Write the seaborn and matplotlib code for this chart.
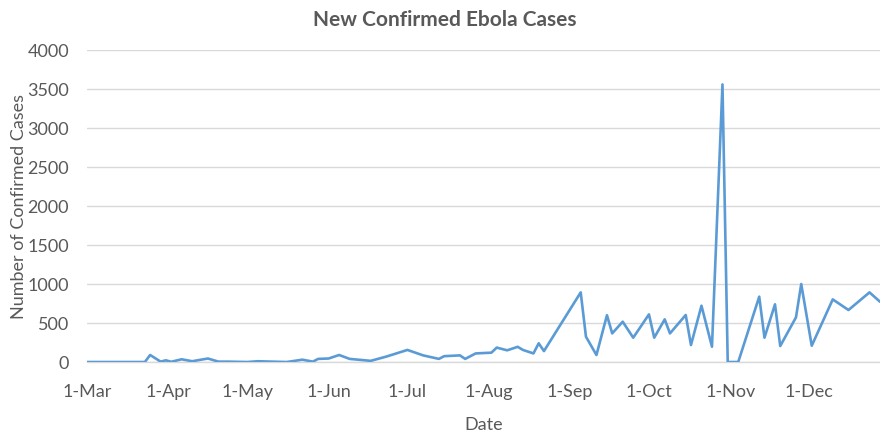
import matplotlib
matplotlib.use("Agg")
import matplotlib.pyplot as plt
import matplotlib.dates as mdates
import pandas as pd
import seaborn as sns

# Report dates and the number of new confirmed cases on each
dates = [
    "2014-03-01", "2014-03-23", "2014-03-25", "2014-03-29", "2014-03-31",
    "2014-04-02", "2014-04-06", "2014-04-10", "2014-04-16", "2014-04-20",
    "2014-04-24", "2014-05-01", "2014-05-05", "2014-05-16", "2014-05-22",
    "2014-05-26", "2014-05-28", "2014-06-01", "2014-06-05", "2014-06-09",
    "2014-06-17", "2014-06-23", "2014-07-01", "2014-07-07", "2014-07-13",
    "2014-07-15", "2014-07-21", "2014-07-23", "2014-07-27", "2014-08-02",
    "2014-08-04", "2014-08-08", "2014-08-12", "2014-08-14", "2014-08-18",
    "2014-08-20", "2014-08-22", "2014-09-05", "2014-09-07", "2014-09-11",
    "2014-09-15", "2014-09-17", "2014-09-21", "2014-09-25", "2014-10-01",
    "2014-10-03", "2014-10-07", "2014-10-09", "2014-10-15", "2014-10-17",
    "2014-10-21", "2014-10-25", "2014-10-29", "2014-10-31", "2014-11-04",
    "2014-11-12", "2014-11-14", "2014-11-18", "2014-11-20", "2014-11-26",
    "2014-11-28", "2014-12-02", "2014-12-10", "2014-12-16", "2014-12-24",
    "2014-12-28",
]
cases = [
    0, 0, 90, 5, 22,
    3, 35, 10, 45, 5,
    5, 0, 10, 0, 30,
    5, 40, 45, 90, 40,
    15, 70, 155, 85, 40,
    75, 85, 40, 110, 120,
    185, 150, 195, 155, 110,
    240, 140, 893, 325, 90,
    600, 367, 517, 312, 611,
    312, 547, 367, 603, 218,
    722, 196, 3560, 0, 0,
    838, 312, 740, 205, 573,
    1000, 209, 803, 667, 893,
    773,
]
y_ticks = [0, 500, 1000, 1500, 2000, 2500, 3000, 3500, 4000]

df = pd.DataFrame({"Date": pd.to_datetime(dates), "Cases": cases})

sns.set_style("white")
plt.rcParams["font.family"] = ["Lato", "DejaVu Sans"]

text_color = "#595959"
grid_color = "#d9d9d9"
line_color = "#5b9bd5"

fig = plt.figure(figsize=(8.8, 4.32), dpi=100)
ax = fig.add_axes([0.099, 0.162, 0.901, 0.722])

sns.lineplot(data=df, x="Date", y="Cases", ax=ax, color=line_color,
             linewidth=1.9, zorder=3)

ax.set_xlim(df["Date"].min(), df["Date"].max())
ax.set_ylim(0, 4000)
ax.set_yticks(y_ticks)
ax.yaxis.grid(True, color=grid_color, linewidth=1.0, zorder=0)
ax.xaxis.grid(False)

ax.xaxis.set_major_locator(mdates.MonthLocator())
ax.xaxis.set_major_formatter(
    matplotlib.ticker.FuncFormatter(
        lambda v, pos: f"{mdates.num2date(v).day}-{mdates.num2date(v).strftime('%b')}"))

for side in ("top", "right", "left"):
    ax.spines[side].set_visible(False)
ax.spines["bottom"].set_color(grid_color)
ax.spines["bottom"].set_linewidth(1.0)

ax.tick_params(axis="x", direction="out", length=6, width=1.0, color=grid_color,
               labelsize=13, labelcolor=text_color, pad=10)
ax.tick_params(axis="y", length=0, labelsize=13, labelcolor=text_color, pad=13)

ax.set_xlabel("Date", fontsize=13, color=text_color, labelpad=12)
ax.set_ylabel("Number of Confirmed Cases", fontsize=13, color=text_color)
ax.yaxis.set_label_coords(-0.076, 0.5)
fig.suptitle("New Confirmed Ebola Cases", x=0.505, y=0.977, fontsize=15,
             fontweight="bold", color=text_color)

fig.savefig("out.png", dpi=100)
